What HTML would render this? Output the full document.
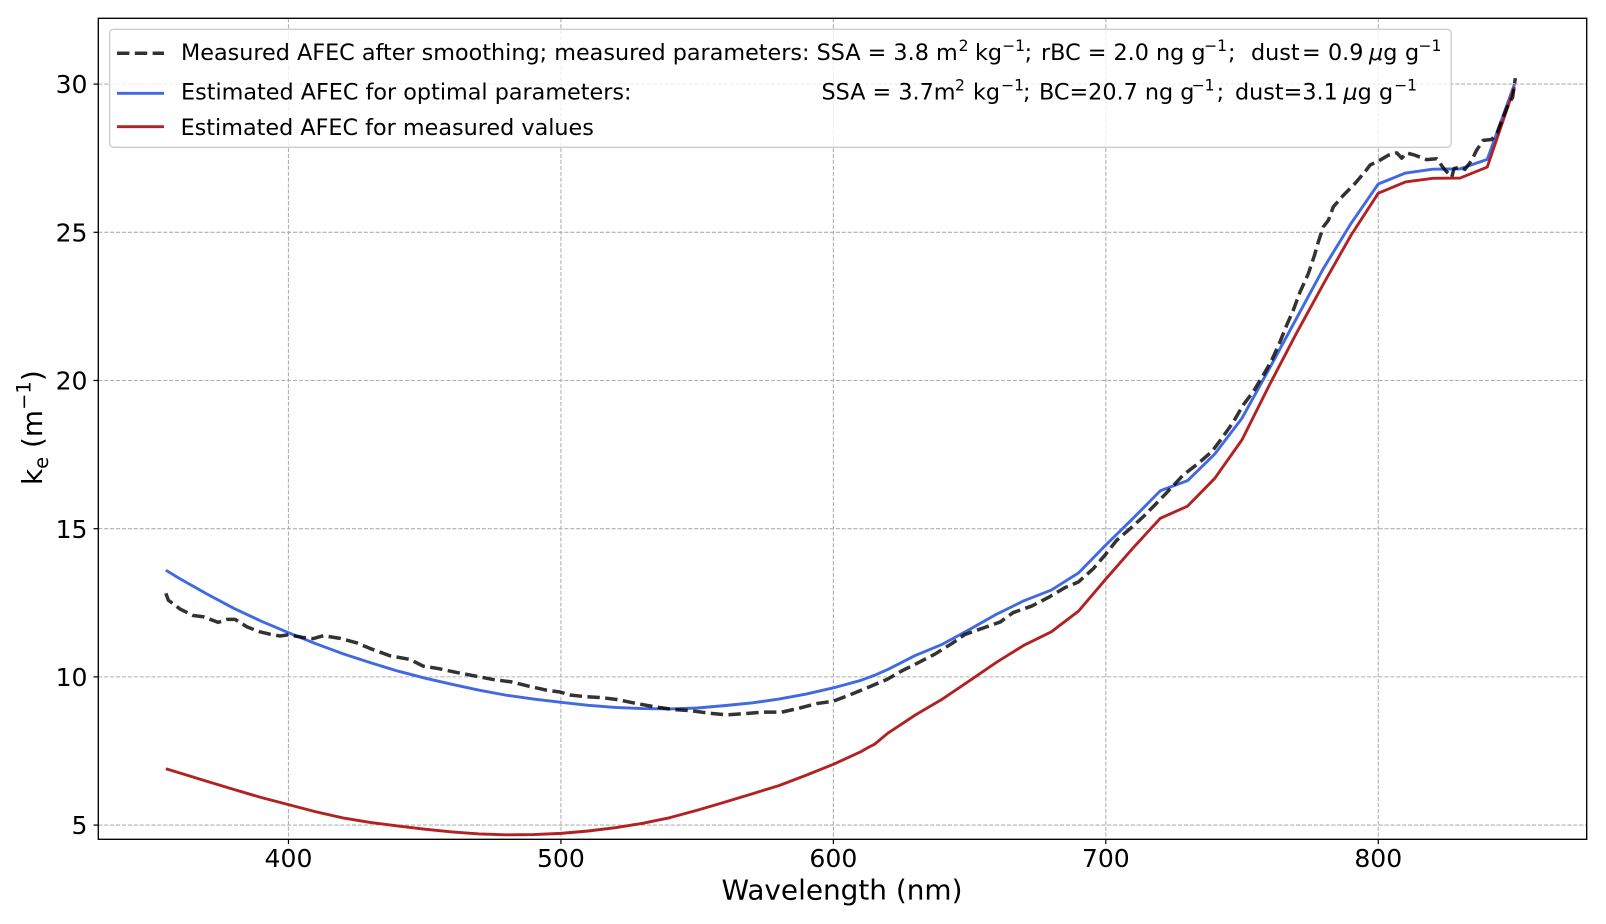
<!DOCTYPE html>
<html>
<head>
<meta charset="utf-8">
<title>AFEC chart</title>
<style>
html,body{margin:0;padding:0;background:#fff;width:1606px;height:924px;overflow:hidden}
svg{display:block}
text{font-family:"DejaVu Sans","Liberation Sans",sans-serif;fill:#000}
</style>
</head>
<body>
<svg id="chart" xmlns="http://www.w3.org/2000/svg" width="1606" height="924" viewBox="0 0 1606 924">
  <rect x="98.3" y="18.3" width="1488.4" height="821" fill="#fff"/>
  <g id="grid"></g>
  <g id="series"></g>
  <rect x="98.3" y="18.3" width="1488.4" height="821" fill="none" stroke="#000" stroke-width="1.35"/>
  <g id="ticks"></g>

  <text x="842" y="899.3" font-size="27.9" text-anchor="middle">Wavelength (nm)</text>
  <text transform="translate(42,485) rotate(-90)" font-size="27.9">k<tspan font-size="19.5" dy="6.2">e</tspan><tspan dy="-6.2"> (m</tspan><tspan font-size="19.5" dy="-11.5">−1</tspan><tspan dy="11.5">)</tspan></text>

  <g>
    <rect x="109.6" y="29.3" width="1341.6" height="118" rx="4" ry="4" fill="#fff" fill-opacity="0.8" stroke="#ccc" stroke-width="1.3"/>
    <line x1="117" y1="53.3" x2="164" y2="53.3" stroke="#000" stroke-opacity="0.8" stroke-width="3.5" stroke-dasharray="12.4 5.4"/>
    <line x1="117" y1="93.3" x2="164" y2="93.3" stroke="#4169e1" stroke-width="2.9"/>
    <line x1="117" y1="126.7" x2="164" y2="126.7" stroke="#b22222" stroke-width="2.9"/>

    <text y="60" font-size="22.3"><tspan x="181">Measured AFEC after smoothing; measured parameters:</tspan><tspan x="816.6">SSA = 3.8 m</tspan><tspan x="958.6" dy="-8.8" font-size="15.6">2</tspan><tspan x="975" dy="8.8">kg</tspan><tspan x="1002" dy="-8.8" font-size="15.6">−1</tspan><tspan x="1024.6" dy="8.8">;</tspan><tspan x="1041">rBC = 2.0 ng g</tspan><tspan x="1204" dy="-8.8" font-size="15.6">−1</tspan><tspan x="1228" dy="8.8">;</tspan><tspan x="1251">dust</tspan><tspan x="1302">=</tspan><tspan x="1328">0.9</tspan><tspan x="1369" font-style="italic">μ</tspan><tspan>g</tspan><tspan x="1405">g</tspan><tspan x="1418.4" dy="-8.8" font-size="15.6">−1</tspan></text>

    <text y="99.3" font-size="22.3"><tspan x="181">Estimated AFEC for optimal parameters:</tspan><tspan x="821.5">SSA = 3.7m</tspan><tspan x="955" dy="-8.8" font-size="15.6">2</tspan><tspan x="973" dy="8.8">kg</tspan><tspan x="1001" dy="-8.8" font-size="15.6">−1</tspan><tspan x="1023" dy="8.8">;</tspan><tspan x="1039">BC=20.7 ng g</tspan><tspan x="1191.6" dy="-8.8" font-size="15.6">−1</tspan><tspan x="1216.6" dy="8.8">;</tspan><tspan x="1235">dust=3.1</tspan><tspan x="1343.4" font-style="italic">μ</tspan><tspan>g</tspan><tspan x="1379">g</tspan><tspan x="1394" dy="-8.8" font-size="15.6">−1</tspan></text>

    <text x="180.6" y="135" font-size="22.3">Estimated AFEC for measured values</text>
  </g>
</svg>
<script>
const xTicks = [400, 500, 600, 700, 800];
const yTicks = [5, 10, 15, 20, 25, 30];

const optimalWavelengths = [355,360,370,380,390,400,410,420,430,440,450,460,470,480,490,500,510,520,530,540,550,560,570,580,590,600,610,615,620,630,640,650,660,670,680,690,700,710,720,730,740,750,760,770,780,790,800,810,820,830,840,850];
const optimalValues = [13.6,13.32,12.8,12.31,11.88,11.49,11.12,10.78,10.48,10.2,9.96,9.75,9.55,9.38,9.25,9.14,9.04,8.97,8.93,8.92,8.95,9.03,9.12,9.25,9.42,9.63,9.88,10.05,10.25,10.72,11.1,11.6,12.12,12.57,12.93,13.51,14.45,15.35,16.28,16.62,17.52,18.73,20.4,22.1,23.8,25.3,26.63,27.0,27.13,27.14,27.46,30.0];

const estimatedWavelengths = [355,360,370,380,390,400,410,420,430,440,450,460,470,480,490,500,510,520,530,540,550,560,570,580,590,600,610,613,615,620,630,640,650,660,670,680,690,700,710,720,730,740,750,760,770,780,790,800,810,820,830,840,850];
const estimatedValues = [6.9,6.76,6.48,6.2,5.93,5.69,5.45,5.24,5.09,4.97,4.86,4.77,4.7,4.67,4.68,4.72,4.8,4.91,5.06,5.25,5.5,5.77,6.05,6.33,6.68,7.05,7.47,7.63,7.72,8.1,8.71,9.25,9.87,10.5,11.07,11.52,12.22,13.3,14.35,15.35,15.76,16.7,18.0,19.84,21.6,23.28,24.9,26.32,26.7,26.82,26.83,27.2,29.9];

const measuredWavelengths = [355,355.9,360.2,365,368.7,374.2,377.5,380.4,384.7,389.5,393.2,396.9,400,405.4,409,412.8,418.9,425,429.9,437.3,444.6,449.5,455,461.7,468.5,475.2,481.9,488,494.8,499.7,503.3,508.2,515,521,527.8,534.5,541.2,547.4,555,560.8,567.6,574.3,581,587.7,593.9,600,607.3,613.4,619.6,625.7,631.2,637.3,643.4,648.3,655,661.2,666,672.8,678.9,685,689.9,695.4,699.7,704,708.9,713.7,718,722.3,728.4,733.9,738.9,742.5,746.8,750.4,754.1,757.8,760.9,763.9,766.4,768.8,771.3,774.3,776.5,778,779.8,781.7,783.5,787.2,791.5,795.1,797,800,803.7,806.8,808.6,810.4,813.5,817.8,821.4,822.7,824.5,827,827.8,830,831.8,834.3,836.1,838.5,841.6,843.6,845.9,847.7,849.3,850.3];
const measuredValues = [12.82,12.59,12.29,12.07,12.03,11.84,11.94,11.94,11.69,11.52,11.44,11.38,11.42,11.33,11.29,11.39,11.3,11.15,10.96,10.71,10.59,10.36,10.28,10.15,10.03,9.91,9.83,9.69,9.55,9.49,9.39,9.34,9.3,9.23,9.1,8.99,8.9,8.86,8.77,8.72,8.76,8.81,8.81,8.95,9.1,9.18,9.44,9.67,9.91,10.23,10.48,10.77,11.12,11.43,11.65,11.85,12.17,12.39,12.68,13.01,13.2,13.65,14.11,14.61,15.0,15.4,15.8,16.21,16.81,17.2,17.6,18.04,18.6,19.17,19.62,20.18,20.69,21.3,21.87,22.37,22.99,23.6,24.2,24.68,25.18,25.41,25.86,26.25,26.65,27.04,27.27,27.4,27.6,27.68,27.5,27.68,27.6,27.45,27.48,27.32,27.1,26.87,27.15,27.2,27.12,27.43,27.77,28.1,28.13,28.35,28.9,29.3,29.55,30.2];

const SVG_NS = 'http://www.w3.org/2000/svg';
const plotLeft = 98.3, plotRight = 1586.7, plotTop = 18.3, plotBottom = 839.3;
const xMin = 330.2, xMax = 876.5, yMin = 4.52, yMax = 32.22;

function xScale(v) {
  return plotLeft + (v - xMin) / (xMax - xMin) * (plotRight - plotLeft);
}
function yScale(v) {
  return plotBottom - (v - yMin) / (yMax - yMin) * (plotBottom - plotTop);
}
function make(tag, attrs) {
  const el = document.createElementNS(SVG_NS, tag);
  for (const k in attrs) el.setAttribute(k, attrs[k]);
  return el;
}
function pathFrom(xs, ys) {
  return xs.map((x, i) => (i ? 'L' : 'M') + xScale(x).toFixed(2) + ' ' + yScale(ys[i]).toFixed(2)).join(' ');
}

const gridGroup = document.getElementById('grid');
const tickGroup = document.getElementById('ticks');
const gridStyle = { stroke: '#b0b0b0', 'stroke-width': 1.1, 'stroke-dasharray': '4.1 1.8', fill: 'none' };

xTicks.forEach(function (t) {
  const px = xScale(t);
  const gl = make('line', Object.assign({ x1: px, x2: px, y1: plotTop, y2: plotBottom }, gridStyle));
  
  
  gridGroup.appendChild(gl);
  const tk = make('line', { x1: px, x2: px, y1: plotBottom, y2: plotBottom + 4.8, stroke: '#000', 'stroke-width': 1.2 });
  
  
  tickGroup.appendChild(tk);
  const lb = make('text', { x: px, y: 867, 'font-size': 25.1, 'text-anchor': 'middle' });
  
  
  lb.textContent = String(t);
  tickGroup.appendChild(lb);
});

yTicks.forEach(function (t) {
  const py = yScale(t);
  const gl = make('line', Object.assign({ x1: plotLeft, x2: plotRight, y1: py, y2: py }, gridStyle));
  
  
  gridGroup.appendChild(gl);
  const tk = make('line', { x1: plotLeft - 4.8, x2: plotLeft, y1: py, y2: py, stroke: '#000', 'stroke-width': 1.2 });
  
  
  tickGroup.appendChild(tk);
  const lb = make('text', { x: 87.5, y: py + 9.1, 'font-size': 25.1, 'text-anchor': 'end' });
  
  
  lb.textContent = String(t);
  tickGroup.appendChild(lb);
});

const seriesGroup = document.getElementById('series');

const optimalLine = make('path', { d: pathFrom(optimalWavelengths, optimalValues), fill: 'none', stroke: '#4169e1', 'stroke-width': 2.9, 'stroke-linejoin': 'round' });


seriesGroup.appendChild(optimalLine);

const estimatedLine = make('path', { d: pathFrom(estimatedWavelengths, estimatedValues), fill: 'none', stroke: '#b22222', 'stroke-width': 2.9, 'stroke-linejoin': 'round' });


seriesGroup.appendChild(estimatedLine);

const measuredLine = make('path', { d: pathFrom(measuredWavelengths, measuredValues), fill: 'none', stroke: '#000', 'stroke-opacity': 0.8, 'stroke-width': 3.5, 'stroke-dasharray': '12.4 5.4', 'stroke-linejoin': 'round' });


seriesGroup.appendChild(measuredLine);
</script>
</body>
</html>
